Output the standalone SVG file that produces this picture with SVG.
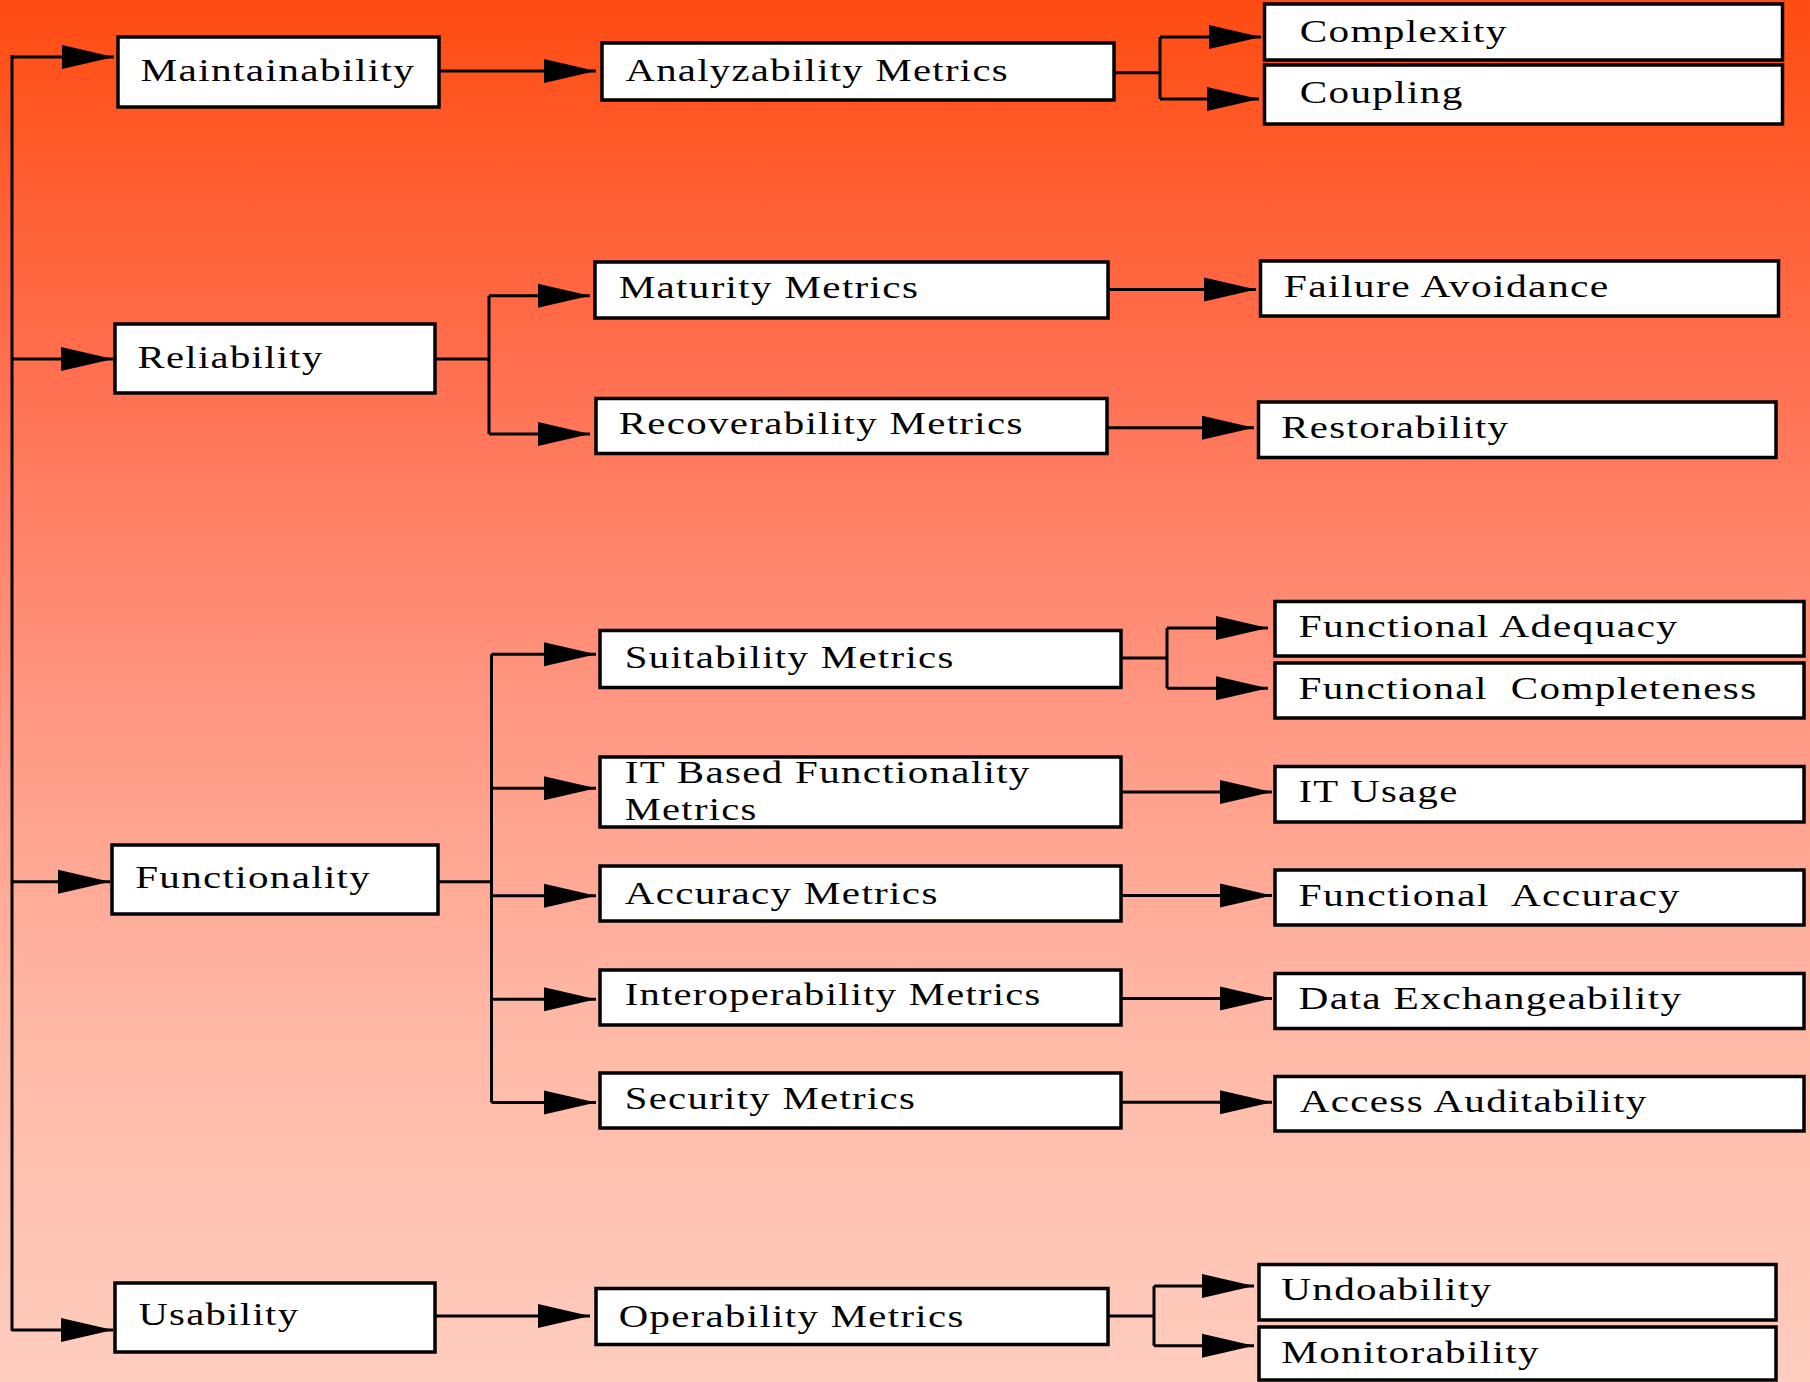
<svg xmlns="http://www.w3.org/2000/svg" width="1810" height="1382" viewBox="0 0 1810 1382">
<defs>
<linearGradient id="bg" x1="0" y1="0" x2="0" y2="1">
<stop offset="0" stop-color="#FF4C12"/>
<stop offset="0.28" stop-color="#FF7152"/>
<stop offset="0.5" stop-color="#FF9580"/>
<stop offset="0.72" stop-color="#FFB6A3"/>
<stop offset="1" stop-color="#FFCDBF"/>
</linearGradient>
<marker id="ah" markerUnits="userSpaceOnUse" markerWidth="52" markerHeight="26" refX="52" refY="12" orient="auto" overflow="visible">
<path d="M0,0 L52,12 L0,24 Z" fill="#000"/>
</marker>
<style>
.box{fill:#fff;stroke:#000;stroke-width:3.5}
.lbl{font-family:"Liberation Serif","Times New Roman",serif;font-size:31px;fill:#000;letter-spacing:1px}
.c{fill:none;stroke:#000;stroke-width:3}
.a{fill:none;stroke:#000;stroke-width:3;marker-end:url(#ah)}
</style>
</defs>
<rect x="0" y="0" width="1810" height="1382" fill="url(#bg)"/>

<g id="connectors">
<path class="c" d="M12,55 V1331"/>
<path class="a" d="M12,57 H114"/>
<path class="a" d="M12,359 H113"/>
<path class="a" d="M12,881.7 H110"/>
<path class="a" d="M12,1330 H113"/>

<path class="a" d="M439,71 H596"/>
<path class="c" d="M1114,72.7 H1160 M1160,37 V99"/>
<path class="a" d="M1160,37 H1261"/>
<path class="a" d="M1160,99 H1259"/>

<path class="c" d="M435,359 H489 M489,295.7 V434"/>
<path class="a" d="M489,295.7 H590"/>
<path class="a" d="M489,434 H590"/>
<path class="a" d="M1108,289.5 H1256"/>
<path class="a" d="M1107,427.7 H1254"/>

<path class="c" d="M438,881.7 H491.5 M491.5,654.3 V1102.5"/>
<path class="a" d="M491.5,654.3 H596"/>
<path class="a" d="M491.5,788.3 H596"/>
<path class="a" d="M491.5,895.8 H596"/>
<path class="a" d="M491.5,999.3 H596"/>
<path class="a" d="M491.5,1102.5 H596"/>

<path class="c" d="M1121,657.9 H1167 M1167,628 V688.2"/>
<path class="a" d="M1167,628 H1268"/>
<path class="a" d="M1167,688.2 H1268"/>
<path class="a" d="M1121,792 H1272"/>
<path class="a" d="M1121,895.4 H1272"/>
<path class="a" d="M1121,998.4 H1272"/>
<path class="a" d="M1121,1102.3 H1272"/>

<path class="a" d="M435,1316 H590"/>
<path class="c" d="M1108,1316 H1154 M1154,1286 V1345.7"/>
<path class="a" d="M1154,1286 H1254"/>
<path class="a" d="M1154,1345.7 H1254"/>
</g>

<g id="maintainability"><rect class="box" x="118" y="37" width="321" height="70"/><text class="lbl" x="140.4" y="81" textLength="275" lengthAdjust="spacingAndGlyphs">Maintainability</text></g>
<g id="reliability"><rect class="box" x="115" y="324" width="320" height="69"/><text class="lbl" x="137.6" y="367.7" textLength="186" lengthAdjust="spacingAndGlyphs">Reliability</text></g>
<g id="functionality"><rect class="box" x="112" y="845" width="326" height="69"/><text class="lbl" x="135.2" y="888.3" textLength="236" lengthAdjust="spacingAndGlyphs">Functionality</text></g>
<g id="usability"><rect class="box" x="115" y="1283" width="320" height="69"/><text class="lbl" x="138.4" y="1325.2" textLength="161" lengthAdjust="spacingAndGlyphs">Usability</text></g>

<g id="analyzability"><rect class="box" x="602" y="43" width="512" height="57"/><text class="lbl" x="625.5" y="81" textLength="383.5" lengthAdjust="spacingAndGlyphs">Analyzability Metrics</text></g>
<g id="maturity"><rect class="box" x="595" y="262" width="513" height="56"/><text class="lbl" x="618.7" y="297.7" textLength="300.5" lengthAdjust="spacingAndGlyphs">Maturity Metrics</text></g>
<g id="recoverability"><rect class="box" x="596" y="398.5" width="511" height="55"/><text class="lbl" x="618.7" y="434" textLength="405" lengthAdjust="spacingAndGlyphs">Recoverability Metrics</text></g>
<g id="suitability"><rect class="box" x="600" y="630.5" width="521" height="57"/><text class="lbl" x="624.7" y="667.9" textLength="330" lengthAdjust="spacingAndGlyphs">Suitability Metrics</text></g>
<g id="it-based"><rect class="box" x="600" y="757" width="521" height="70"/><text class="lbl" x="624.7" y="782.9" textLength="406" lengthAdjust="spacingAndGlyphs">IT Based Functionality</text><text class="lbl" x="624.7" y="819.6" textLength="133" lengthAdjust="spacingAndGlyphs">Metrics</text></g>
<g id="accuracy"><rect class="box" x="600" y="866" width="521" height="55"/><text class="lbl" x="624.7" y="903.6" textLength="314" lengthAdjust="spacingAndGlyphs">Accuracy Metrics</text></g>
<g id="interoperability"><rect class="box" x="600" y="970" width="521" height="55"/><text class="lbl" x="624.7" y="1005.4" textLength="417" lengthAdjust="spacingAndGlyphs">Interoperability Metrics</text></g>
<g id="security"><rect class="box" x="600" y="1073" width="521" height="55"/><text class="lbl" x="624.7" y="1108.9" textLength="291.5" lengthAdjust="spacingAndGlyphs">Security Metrics</text></g>
<g id="operability"><rect class="box" x="596" y="1288.5" width="512" height="56"/><text class="lbl" x="618.7" y="1326.7" textLength="346" lengthAdjust="spacingAndGlyphs">Operability Metrics</text></g>

<g id="complexity"><rect class="box" x="1264.5" y="4" width="518" height="56"/><text class="lbl" x="1299.7" y="41.7" textLength="208" lengthAdjust="spacingAndGlyphs">Complexity</text></g>
<g id="coupling"><rect class="box" x="1264.5" y="65" width="518" height="59"/><text class="lbl" x="1299.7" y="103.3" textLength="164" lengthAdjust="spacingAndGlyphs">Coupling</text></g>
<g id="failure-avoidance"><rect class="box" x="1260.5" y="261" width="518" height="55"/><text class="lbl" x="1283.7" y="296.7" textLength="326" lengthAdjust="spacingAndGlyphs">Failure Avoidance</text></g>
<g id="restorability"><rect class="box" x="1258.5" y="402" width="517.5" height="55.5"/><text class="lbl" x="1281.3" y="437.7" textLength="228" lengthAdjust="spacingAndGlyphs">Restorability</text></g>
<g id="functional-adequacy"><rect class="box" x="1275" y="601.5" width="529" height="54.5"/><text class="lbl" x="1298.5" y="637" textLength="380" lengthAdjust="spacingAndGlyphs">Functional Adequacy</text></g>
<g id="functional-completeness"><rect class="box" x="1275" y="663" width="529" height="55"/><text class="lbl" x="1298.5" y="698.6" textLength="459" lengthAdjust="spacingAndGlyphs" xml:space="preserve">Functional  Completeness</text></g>
<g id="it-usage"><rect class="box" x="1275" y="766.5" width="529" height="55.5"/><text class="lbl" x="1298.5" y="802" textLength="160" lengthAdjust="spacingAndGlyphs">IT Usage</text></g>
<g id="functional-accuracy"><rect class="box" x="1275" y="870" width="529" height="55"/><text class="lbl" x="1298.5" y="905.7" textLength="382" lengthAdjust="spacingAndGlyphs" xml:space="preserve">Functional  Accuracy</text></g>
<g id="data-exchangeability"><rect class="box" x="1275" y="973.5" width="529" height="55"/><text class="lbl" x="1298.5" y="1008.6" textLength="384" lengthAdjust="spacingAndGlyphs">Data Exchangeability</text></g>
<g id="access-auditability"><rect class="box" x="1275" y="1076.5" width="529" height="54.5"/><text class="lbl" x="1299.7" y="1112.1" textLength="348" lengthAdjust="spacingAndGlyphs">Access Auditability</text></g>
<g id="undoability"><rect class="box" x="1259" y="1264.5" width="517" height="55.5"/><text class="lbl" x="1281.3" y="1300" textLength="211" lengthAdjust="spacingAndGlyphs">Undoability</text></g>
<g id="monitorability"><rect class="box" x="1259" y="1327" width="517" height="53"/><text class="lbl" x="1281.3" y="1363.3" textLength="258.6" lengthAdjust="spacingAndGlyphs">Monitorability</text></g>
</svg>
